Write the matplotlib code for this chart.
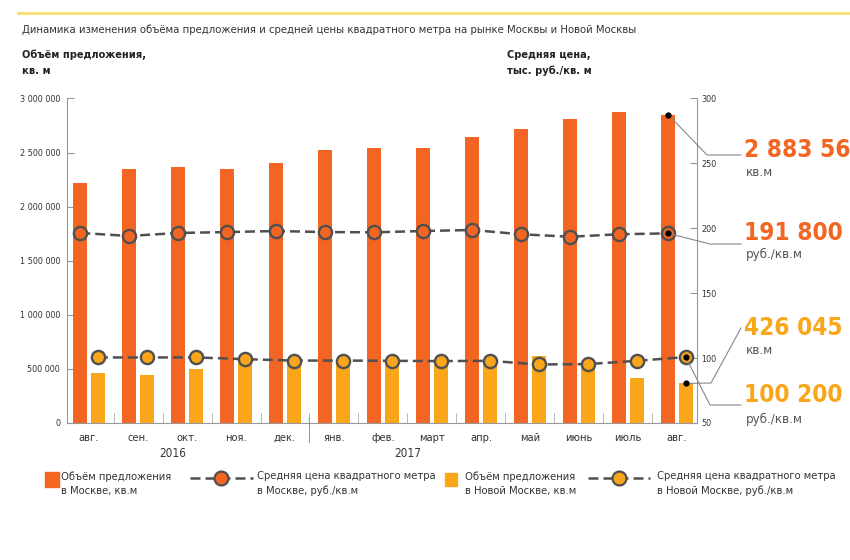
import numpy as np
import matplotlib
matplotlib.use('Agg')
import matplotlib.pyplot as plt
from matplotlib.lines import Line2D
from matplotlib.patches import Rectangle
from matplotlib.ticker import FuncFormatter, FixedLocator

# ---------------------------------- data ---------------------------------- #
months = ['авг.', 'сен.', 'окт.', 'ноя.', 'дек.', 'янв.', 'фев.', 'март',
          'апр.', 'май', 'июнь', 'июль', 'авг.']
years = ['2016', '2017']
vol_moscow = [2220000, 2350000, 2365000, 2348000, 2405000, 2525000, 2540000,
              2545000, 2645000, 2715000, 2815000, 2877000, 2852000]
vol_newmoscow = [459000, 443000, 501000, 555000, 552000, 552000, 566000,
                 566000, 570000, 618000, 535000, 418000, 366000]
price_moscow = [196.4, 194.1, 196.4, 197.1, 197.9, 197.1, 196.9, 197.9,
                198.7, 195.4, 193.5, 195.4, 196.1]
price_newmoscow = [100.5, 100.5, 100.5, 99.2, 98.1, 98.1, 97.9, 97.7,
                   97.9, 95.1, 95.4, 97.9, 100.8]
callouts = [('2 883 56', 'кв.м'), ('191 800', 'руб./кв.м'),
            ('426 045', 'кв.м'), ('100 200', 'руб./кв.м')]

ORANGE = '#F26522'
YELLOW = '#F9A61A'
GREY = '#505050'

plt.rcParams['font.family'] = ['DejaVu Sans']
plt.rcParams['font.stretch'] = 'condensed'
W, H = 850, 560

def fx(px):
    return px / W

def fy(py):
    return 1 - py / H

fig = plt.figure(figsize=(8.5, 5.6), dpi=100)
ax = fig.add_axes([fx(67), fy(423), (697 - 67) / W, (423 - 98.5) / H])
ax2 = ax.twinx()

x = np.arange(len(months))
off = 0.18
ax.bar(x - off, vol_moscow, width=0.29, color=ORANGE, zorder=2)
ax.bar(x + off, vol_newmoscow, width=0.29, color=YELLOW, zorder=2)

ax2.plot(x - off, price_moscow, ls=(0, (4, 2)), color=GREY, lw=1.8,
         marker='o', ms=9.5, mfc=ORANGE, mec=GREY, mew=1.7)
ax2.plot(x + off, price_newmoscow, ls=(0, (4, 2)), color=GREY, lw=1.8,
         marker='o', ms=9.5, mfc=YELLOW, mec=GREY, mew=1.7)

ax.set_xlim(-0.45, 12.41)
ax.set_ylim(0, 3000000)
ax2.set_ylim(50, 300)

# ---------------------------------- axes ---------------------------------- #
for s in ['top', 'right']:
    ax.spines[s].set_visible(False)
for s in ['top', 'left', 'bottom']:
    ax2.spines[s].set_visible(False)
ax.spines['left'].set_color('#999999')
ax.spines['bottom'].set_color('#999999')
ax2.spines['right'].set_color('#999999')

ax.set_yticks(np.arange(0, 3000001, 500000))
ax.yaxis.set_major_formatter(FuncFormatter(lambda v, p: f'{int(v):,}'.replace(',', ' ')))
ax.tick_params(axis='y', direction='in', length=5, color='#999999',
               labelsize=6.5, labelcolor='#333333', pad=5)
ax2.set_yticks(np.arange(50, 301, 50))
ax2.tick_params(axis='y', direction='in', length=5, color='#999999',
                labelsize=6.5, labelcolor='#333333', pad=3)

ax.set_xticks(x)
ax.set_xticklabels(months)
ax.tick_params(axis='x', which='major', length=0, pad=7, labelsize=8,
               labelcolor='#333333')
ax.xaxis.set_minor_locator(FixedLocator(x[:-1] + 0.5))
ax.tick_params(axis='x', which='minor', direction='in', length=7,
               color='#aaaaaa')
ax.plot([4.5, 4.5], [0.02, -0.06], transform=ax.get_xaxis_transform(),
        color='#999999', lw=0.8, clip_on=False)
ax.text(1.7, -0.094, years[0], transform=ax.get_xaxis_transform(),
        ha='center', va='center', fontsize=8.5, color='#333333')
ax.text(6.5, -0.094, years[1], transform=ax.get_xaxis_transform(),
        ha='center', va='center', fontsize=8.5, color='#333333')

# --------------------------------- titles --------------------------------- #
fig.add_artist(Line2D([fx(18), 1], [fy(13), fy(13)], color='#F8E07A', lw=2.2))
fig.text(fx(22), fy(30), 'Динамика изменения объёма предложения и средней цены '
         'квадратного метра на рынке Москвы и Новой Москвы',
         fontsize=8.1, color='#333333', va='center')
fig.text(fx(22), fy(50), 'Объём предложения,\nкв. м', fontsize=7.9,
         fontweight='bold', color='#222222', va='top', linespacing=1.7)
fig.text(fx(507), fy(50), 'Средняя цена,\nтыс. руб./кв. м', fontsize=7.9,
         fontweight='bold', color='#222222', va='top', linespacing=1.7)

# -------------------------------- callouts -------------------------------- #
def to_fig(axis, xv, yv):
    return fig.transFigure.inverted().transform(axis.transData.transform((xv, yv)))

last = len(months) - 1
points = [to_fig(ax, last - off, vol_moscow[-1]),
          to_fig(ax2, last - off, price_moscow[-1]),
          to_fig(ax, last + off, vol_newmoscow[-1]),
          to_fig(ax2, last + off, price_newmoscow[-1])]
bends = [[(707, 155), (741, 155)],
         [(710, 244), (741, 244)],
         [(711, 383), (741, 328)],
         [(710, 405), (741, 405)]]
label_y = [150, 233, 328, 395]
unit_y = [172, 254, 350, 419]
colors = [ORANGE, ORANGE, YELLOW, YELLOW]
for p, b, ly, uy, c, (big, unit) in zip(points, bends, label_y, unit_y,
                                        colors, callouts):
    xs = [p[0]] + [fx(q[0]) for q in b]
    ys = [p[1]] + [fy(q[1]) for q in b]
    fig.add_artist(Line2D(xs, ys, color='#888888', lw=0.8))
    fig.add_artist(Line2D([p[0]], [p[1]], marker='o', ms=3.5, color='black'))
    fig.text(fx(744), fy(ly), big, color=c, fontsize=17.5, fontweight='bold',
             va='center')
    fig.text(fx(746), fy(uy), unit, color='#555555', fontsize=9.5, va='center')

# --------------------------------- legend --------------------------------- #
fig.add_artist(Rectangle((fx(45), fy(487)), 14 / W, 15 / H, color=ORANGE,
                         transform=fig.transFigure))
fig.add_artist(Rectangle((fx(445), fy(486)), 12 / W, 13 / H, color=YELLOW,
                         transform=fig.transFigure))
for x0, x1, c in [(190, 253, ORANGE), (588, 650, YELLOW)]:
    fig.add_artist(Line2D([fx(x0), fx((x0 + x1) / 2), fx(x1)], [fy(478)] * 3,
                          ls=(0, (4, 2)), color=GREY, lw=1.8, marker='o',
                          markevery=[1], ms=10, mfc=c, mec=GREY, mew=1.6))
leg_texts = [(61, 'Объём предложения\nв Москве, кв.м'),
             (257, 'Средняя цена квадратного метра\nв Москве, руб./кв.м'),
             (465, 'Объём предложения\nв Новой Москве, кв.м'),
             (657, 'Средняя цена квадратного метра\nв Новой Москве, руб./кв.м')]
for px, t in leg_texts:
    fig.text(fx(px), fy(471), t, fontsize=8, color='#333333', va='top',
             linespacing=1.55)

fig.savefig('out.png', dpi=100)
